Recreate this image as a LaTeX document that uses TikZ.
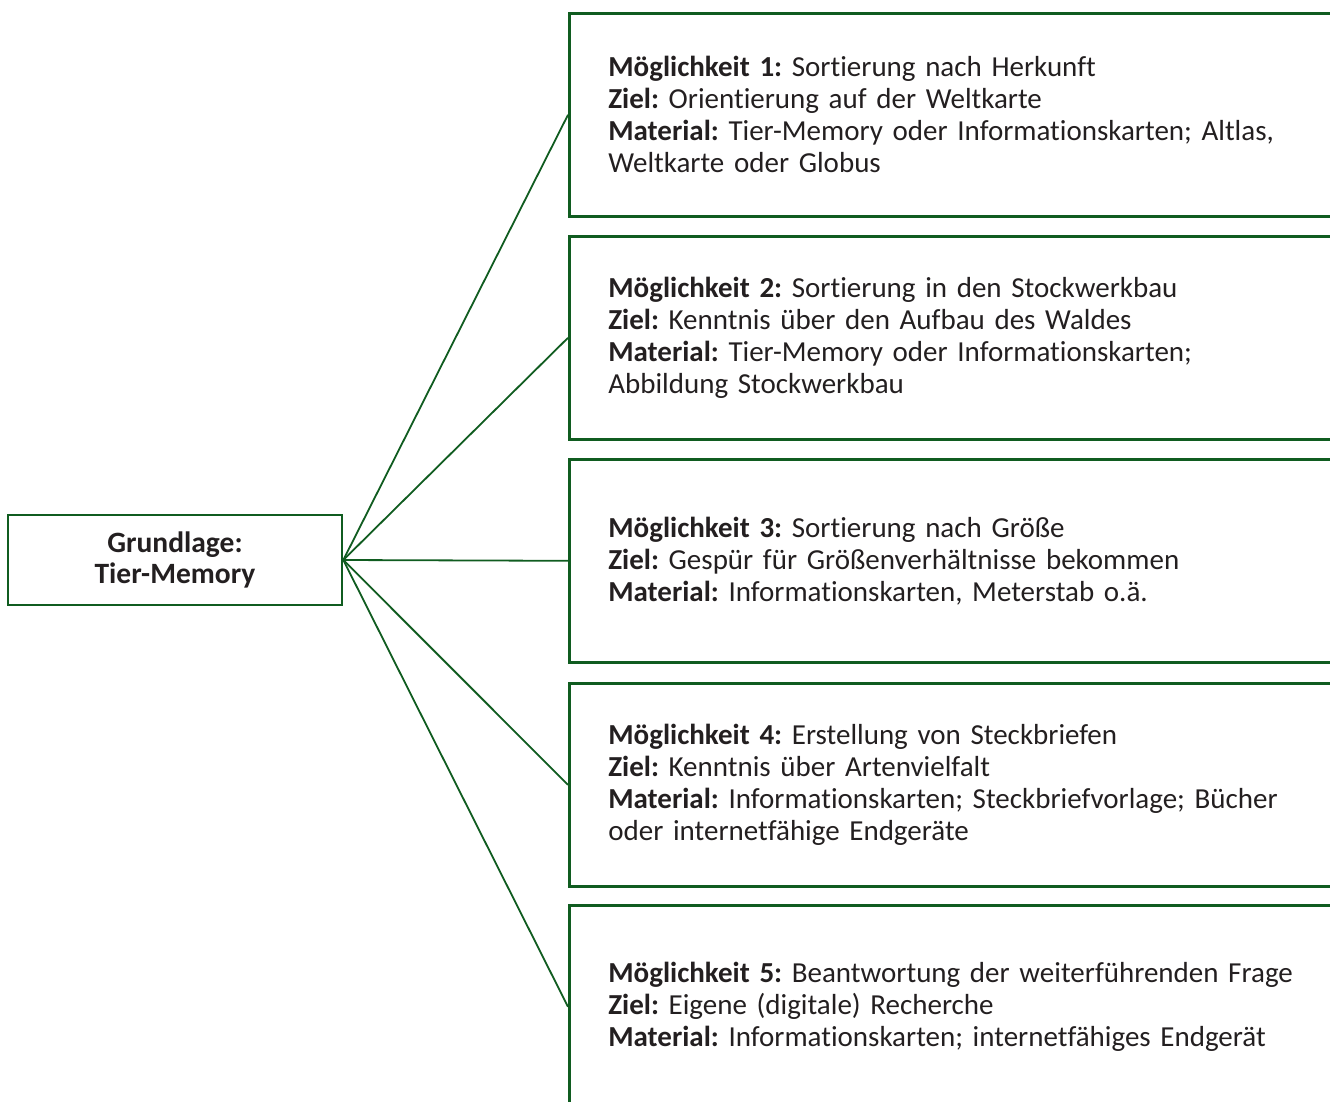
\documentclass[tikz,border=0pt]{standalone}
\usepackage{fontspec}
\setmainfont[Ligatures=NoCommon]{Carlito}
\definecolor{dgreen}{RGB}{16,92,32}
\definecolor{txt}{RGB}{35,31,32}
\begin{document}
\frenchspacing
\begin{tikzpicture}[x=1pt,y=-1pt,
  optbox/.style={draw=dgreen,line width=2.6pt,rectangle,anchor=north west,minimum width=800pt,minimum height=203pt,text width=722pt,align=left,inner sep=0pt,text=txt,font=\fontsize{29}{32}\selectfont},
  basebox/.style={draw=dgreen,line width=2.6pt,rectangle,minimum width=334pt,minimum height=90pt,align=center,text=txt,font=\fontsize{29.5}{31.5}\selectfont\bfseries},
  link/.style={draw=dgreen,line width=1.8pt}]
\useasboundingbox (0,0) rectangle (1330,1101);
\clip (0,0) rectangle (1330,1101);
\node[basebox] (g) at (175,560) {Grundlage:\\Tier-Memory};
\node[optbox] (o1) at (568,12) {\textbf{Möglichkeit 1:} Sortierung nach Herkunft\\\textbf{Ziel:} Orientierung auf der Weltkarte\\\textbf{Material:} Tier-Memory oder Informationskarten; Altlas,\\Weltkarte oder Globus};
\node[optbox] (o2) at (568,235) {\textbf{Möglichkeit 2:} Sortierung in den Stockwerkbau\\\textbf{Ziel:} Kenntnis über den Aufbau des Waldes\\\textbf{Material:} Tier-Memory oder Informationskarten;\\Abbildung Stockwerkbau};
\node[optbox] (o3) at (568,458) {\textbf{Möglichkeit 3:} Sortierung nach Größe\\\textbf{Ziel:} Gespür für Größenverhältnisse bekommen\\\textbf{Material:} Informationskarten, Meterstab o.ä.};
\node[optbox] (o4) at (568,682) {\textbf{Möglichkeit 4:} Erstellung von Steckbriefen\\\textbf{Ziel:} Kenntnis über Artenvielfalt\\\textbf{Material:} Informationskarten; Steckbriefvorlage; Bücher\\oder internetfähige Endgeräte};
\node[optbox] (o5) at (568,904) {\textbf{Möglichkeit 5:} Beantwortung der weiterführenden Frage\\\textbf{Ziel:} Eigene (digitale) Recherche\\\textbf{Material:} Informationskarten; internetfähiges Endgerät};
\foreach \n in {o1,o2,o3,o4,o5} \draw[link] (g.east) -- (\n.west);
\end{tikzpicture}
\end{document}
